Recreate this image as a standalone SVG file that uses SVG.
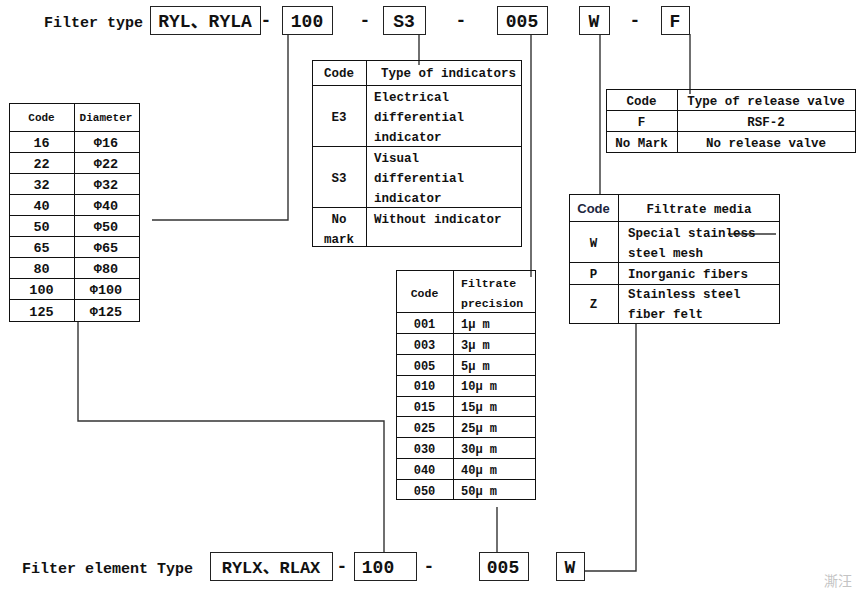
<svg xmlns="http://www.w3.org/2000/svg" width="864" height="589" viewBox="0 0 864 589">
<style>
.t{font-family:"Liberation Mono","Noto Sans CJK SC",monospace;font-weight:bold;fill:#111}
.c{text-anchor:middle}
.box{fill:#fff;stroke:#222;stroke-width:1}
.grid{fill:none;stroke:#111;stroke-width:1}
.conn{fill:none;stroke:#333;stroke-width:1.4}
.big{font-size:18px}
.ttl{font-size:15px}
.m{font-size:12.5px}
.s{font-size:11.5px}
</style>
<rect width="864" height="589" fill="#fff"/>

<g id="connectors">
<path class="conn" d="M288 34V220H152"/>
<path class="conn" d="M419 34V65"/>
<path class="conn" d="M531 34V277"/>
<path class="conn" d="M600 34V194"/>
<path class="conn" d="M690 34V94"/>
<path class="conn" d="M78 321V421H384V552"/>
<path class="conn" d="M497 507V552"/>
<path class="conn" d="M584 571H636V323"/>
<path class="conn" d="M728 234H776"/>
</g>

<g id="top-code">
<text class="t ttl" x="44" y="27">Filter type</text>
<rect class="box" x="150.5" y="6.5" width="110" height="28"/>
<text class="t big c" x="205" y="27">RYL、RYLA</text>
<text class="t big c" x="266" y="26">-</text>
<rect class="box" x="282.5" y="6.5" width="50" height="28"/>
<text class="t big c" x="307" y="27">100</text>
<text class="t big c" x="365" y="26">-</text>
<rect class="box" x="383.5" y="6.5" width="42" height="28"/>
<text class="t big c" x="404" y="27">S3</text>
<text class="t big c" x="461" y="26">-</text>
<rect class="box" x="497.5" y="6.5" width="50" height="28"/>
<text class="t big c" x="522" y="27">005</text>
<rect class="box" x="579.5" y="6.5" width="30" height="28"/>
<text class="t big c" x="594" y="27">W</text>
<text class="t big c" x="635" y="26">-</text>
<rect class="box" x="661.5" y="6.5" width="28" height="28"/>
<text class="t big c" x="675" y="27">F</text>
</g>

<g id="diameter-table">
<rect class="grid" x="9.5" y="103.5" width="130" height="218"/>
<path class="grid" d="M74.5 103.5V321.5M9.5 131.5H139.5M9.5 152.5H139.5M9.5 173.5H139.5M9.5 194.5H139.5M9.5 215.5H139.5M9.5 236.5H139.5M9.5 257.5H139.5M9.5 278.5H139.5M9.5 299.5H139.5"/>
<text class="t c" style="font-size:11px" x="41.5" y="121">Code</text>
<text class="t c" style="font-size:11px" x="106" y="121">Diameter</text>
<g class="t c" style="font-size:13.5px">
<text x="41.5" y="147">16</text><text x="106" y="147">Φ16</text>
<text x="41.5" y="168">22</text><text x="106" y="168">Φ22</text>
<text x="41.5" y="189">32</text><text x="106" y="189">Φ32</text>
<text x="41.5" y="210">40</text><text x="106" y="210">Φ40</text>
<text x="41.5" y="231">50</text><text x="106" y="231">Φ50</text>
<text x="41.5" y="252">65</text><text x="106" y="252">Φ65</text>
<text x="41.5" y="273">80</text><text x="106" y="273">Φ80</text>
<text x="41.5" y="294">100</text><text x="106" y="294">Φ100</text>
<text x="41.5" y="316">125</text><text x="106" y="316">Φ125</text>
</g>
</g>

<g id="indicator-table">
<rect class="grid" x="312.5" y="60.5" width="209" height="186"/>
<path class="grid" d="M366.5 60.5V246.5M312.5 85.5H521.5M312.5 146.5H521.5M312.5 207.5H521.5"/>
<g class="t m">
<text class="c" x="339" y="77">Code</text>
<text x="381" y="77">Type of indicators</text>
<text class="c" x="339" y="121">E3</text>
<text x="374" y="101">Electrical</text>
<text x="374" y="121">differential</text>
<text x="374" y="141">indicator</text>
<text class="c" x="339" y="182">S3</text>
<text x="374" y="162">Visual</text>
<text x="374" y="182">differential</text>
<text x="374" y="202">indicator</text>
<text class="c" x="339" y="223">No</text>
<text class="c" x="339" y="243">mark</text>
<text x="374" y="223">Without indicator</text>
</g>
</g>

<g id="release-valve-table">
<rect class="grid" x="606.5" y="89.5" width="249" height="63"/>
<path class="grid" d="M677.5 89.5V152.5M606.5 110.5H855.5M606.5 131.5H855.5"/>
<g class="t m c">
<text x="641.5" y="105">Code</text>
<text x="766" y="105">Type of release valve</text>
<text x="641.5" y="126">F</text>
<text x="766" y="126">RSF-2</text>
<text x="641.5" y="147">No Mark</text>
<text x="766" y="147">No release valve</text>
</g>
</g>

<g id="precision-table">
<rect class="grid" x="396.5" y="270.5" width="139" height="229"/>
<path class="grid" d="M453.5 270.5V499.5M396.5 312.5H535.5M396.5 333.5H535.5M396.5 354.5H535.5M396.5 375.5H535.5M396.5 396.5H535.5M396.5 416.5H535.5M396.5 437.5H535.5M396.5 458.5H535.5M396.5 479.5H535.5"/>
<g class="t s">
<text class="c" x="424.5" y="297">Code</text>
<text x="461" y="287">Filtrate</text>
<text x="461" y="307">precision</text>
</g>
<g class="t" style="font-size:12px">
<text class="c" x="424.5" y="328">001</text><text x="461" y="328">1μ m</text>
<text class="c" x="424.5" y="349">003</text><text x="461" y="349">3μ m</text>
<text class="c" x="424.5" y="370">005</text><text x="461" y="370">5μ m</text>
<text class="c" x="424.5" y="390">010</text><text x="461" y="390">10μ m</text>
<text class="c" x="424.5" y="411">015</text><text x="461" y="411">15μ m</text>
<text class="c" x="424.5" y="432">025</text><text x="461" y="432">25μ m</text>
<text class="c" x="424.5" y="453">030</text><text x="461" y="453">30μ m</text>
<text class="c" x="424.5" y="474">040</text><text x="461" y="474">40μ m</text>
<text class="c" x="424.5" y="495">050</text><text x="461" y="495">50μ m</text>
</g>
</g>

<g id="media-table">
<rect class="grid" x="569.5" y="194.5" width="210" height="129"/>
<path class="grid" d="M618.5 194.5V323.5M569.5 221.5H779.5M569.5 262.5H779.5M569.5 284.5H779.5"/>
<text x="593.5" y="213" text-anchor="middle" style="font-family:'Liberation Sans','Noto Sans',sans-serif;font-weight:bold;font-size:13px;fill:#1c2640">Code</text>
<g class="t m">
<text class="c" x="699" y="213">Filtrate media</text>
<text class="c" x="593.5" y="247">W</text>
<text x="628" y="237">Special stainless</text>
<text x="628" y="257">steel mesh</text>
<text class="c" x="593.5" y="278">P</text>
<text x="628" y="278">Inorganic fibers</text>
<text class="c" x="593.5" y="308">Z</text>
<text x="628" y="298">Stainless steel</text>
<text x="628" y="318">fiber felt</text>
</g>
</g>

<g id="bottom-code">
<text class="t ttl" x="22" y="573">Filter element Type</text>
<rect class="box" x="210.5" y="552.5" width="122" height="28"/>
<text class="t c" style="font-size:17px" x="271" y="573">RYLX、RLAX</text>
<text class="t big c" x="342" y="572">-</text>
<rect class="box" x="354.5" y="552.5" width="62" height="28"/>
<text class="t big c" x="378" y="573">100</text>
<text class="t big c" x="429" y="572">-</text>
<rect class="box" x="479.5" y="552.5" width="49" height="28"/>
<text class="t big c" x="503" y="573">005</text>
<rect class="box" x="556.5" y="552.5" width="28" height="28"/>
<text class="t big c" x="570" y="573">W</text>
</g>

<text x="824" y="586" style="font-family:'Noto Sans CJK SC',sans-serif;font-size:14px;fill:#c4c4c4">澌汪</text>
</svg>
